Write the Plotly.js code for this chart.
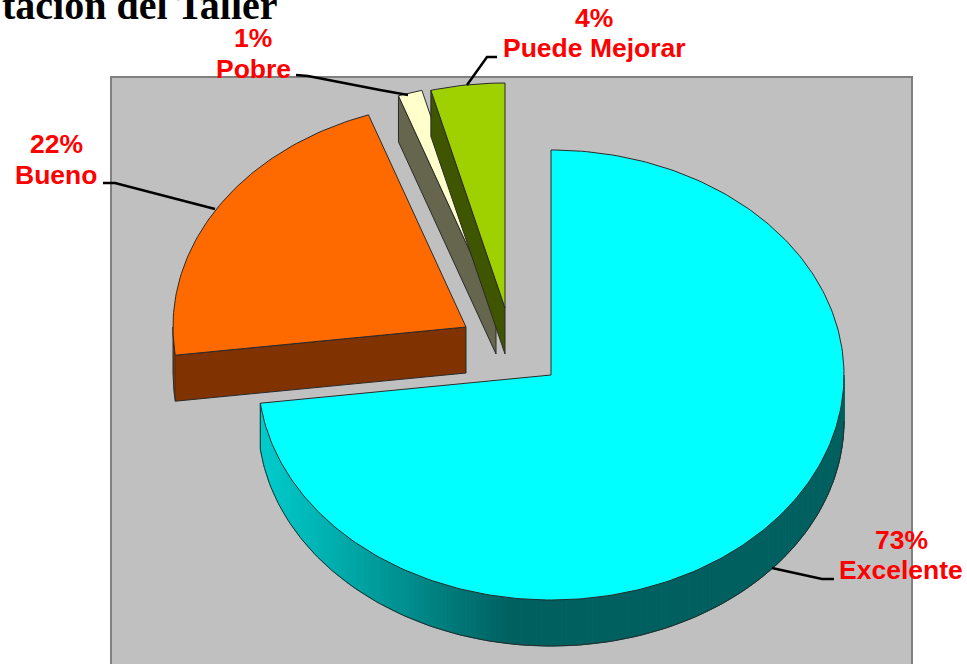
<!DOCTYPE html>
<html><head><meta charset="utf-8">
<script src="https://cdn.plot.ly/plotly-3.0.1.min.js"></script>
<style>html,body{margin:0;padding:0;background:#fff;overflow:hidden}#c{width:967px;height:664px}</style>
</head><body><div id="c"></div><script>
const categories = ['Excelente','Bueno','Pobre','Puede Mejorar'];
const percentLabels = ['73%','22%','1%','4%'];
const shares = [73.0, 21.6, 1.33, 4.07];
const topColors = ['#00ffff','#ff6a00','#ffffcc','#9fd000'];
const wallColors = ['#006060','#803300','#66664f','#3f5500'];
const apexX = [551, 466, 496, 505];
const apexY = [375, 327, 308, 308];
const titleText = 'tación del Taller';

const RX = 293, RY = 225, DEPTH = 46, OUT = '#2a2a2a';
const traces = [];
const px = (i, a) => apexX[i] + RX * Math.sin(a * Math.PI / 180);
const py = (i, a, d) => apexY[i] - RY * Math.cos(a * Math.PI / 180) + (d || 0);
const angleSteps = (a, b, s) => { const r = []; const n = Math.max(1, Math.ceil(Math.abs(b - a) / s)); for (let k = 0; k <= n; k++) r.push(a + (b - a) * k / n); return r; };
const poly = (x, y, fill, line, w) => traces.push({type:'scatter', mode: line ? 'lines' : 'none', x, y,
  fill: fill ? 'toself' : 'none', fillcolor: fill || undefined, line:{color: line || 'rgba(0,0,0,0)', width: w || 1},
  hoverinfo:'skip', showlegend:false, cliponaxis:false});

// angular extent of each slice, clockwise from 12 o'clock
const spans = []; let acc = 0;
shares.forEach(v => { spans.push([acc, acc + v * 3.6]); acc += v * 3.6; });

function tealAt(x) {
  const stops = [[260,205],[330,175],[400,145],[450,122],[510,96],[900,96]];
  for (let k = 1; k < stops.length; k++) if (x <= stops[k][0]) {
    const t = (x - stops[k-1][0]) / (stops[k][0] - stops[k-1][0]);
    const g = Math.round(stops[k-1][1] + t * (stops[k][1] - stops[k-1][1]));
    return `rgb(0,${g},${g})`;
  }
  return 'rgb(0,96,96)';
}
function wallExcelente(i) {
  const a0 = 90, a1 = spans[i][1];
  const as = angleSteps(a0, a1, 1);
  for (let k = 0; k < as.length - 1; k++) {
    const a = as[k], b = as[k+1], c = tealAt(px(i,(a+b)/2));
    poly([px(i,a),px(i,b),px(i,b),px(i,a),px(i,a)], [py(i,a),py(i,b),py(i,b,DEPTH),py(i,a,DEPTH),py(i,a)], c, c, 1);
  }
  const arc = angleSteps(a0, a1, 1);
  poly(arc.map(a => px(i,a)), arc.map(a => py(i,a,DEPTH)), null, OUT, 1);
  poly([px(i,a1),px(i,a1)], [py(i,a1),py(i,a1,DEPTH)], null, OUT, 1);
}
function topFace(i) {
  const arc = angleSteps(spans[i][0], spans[i][1], 1);
  const x = [apexX[i]].concat(arc.map(a => px(i,a)), [apexX[i]]);
  const y = [apexY[i]].concat(arc.map(a => py(i,a)), [apexY[i]]);
  poly(x, y, topColors[i], OUT, 1);
}
function wallCut(i, a) {
  poly([px(i,a),apexX[i],apexX[i],px(i,a),px(i,a)],
       [py(i,a),apexY[i],apexY[i]+DEPTH,py(i,a,DEPTH),py(i,a)], wallColors[i], OUT, 1);
}
wallCut(1, spans[1][0]);
const bArc = angleSteps(spans[1][0], 270, 1);
poly(bArc.map(a=>px(1,a)).concat(bArc.slice().reverse().map(a=>px(1,a))),
     bArc.map(a=>py(1,a)).concat(bArc.slice().reverse().map(a=>py(1,a,DEPTH))), wallColors[1], OUT, 1);
topFace(1);
wallCut(2, spans[2][0]); topFace(2);
wallCut(3, spans[3][0]); topFace(3);
wallExcelente(0); topFace(0);

// leader lines
const leaderX = [[772,822,834],[215,115,103],[408,380,308,296],[467,487,497]];
const leaderY = [[568,579,579],[209,183,183],[95,90,76,75],[85,57,57]];
leaderX.forEach((x,i) => traces.push({type:'scatter',mode:'lines',x,y:leaderY[i],line:{color:'#000',width:2.5},hoverinfo:'skip',showlegend:false,cliponaxis:false}));

const labelX = [901,56,253,594], pctY = [540,144,38,18], nameY = [570,175,69,48];
const labelFont = {family:'"Liberation Sans",Arial,sans-serif', size:26.5, color:'#ff0000', weight:700};
const ann = [];
categories.forEach((c,i) => {
  ann.push({x:labelX[i],y:pctY[i],text:percentLabels[i],showarrow:false,font:labelFont,xref:'x',yref:'y',xanchor:'center',yanchor:'middle'});
  ann.push({x:labelX[i],y:nameY[i],text:c,showarrow:false,font:labelFont,xref:'x',yref:'y',xanchor:'center',yanchor:'middle'});
});
ann.push({x:280,y:5,text:titleText,showarrow:false,xref:'x',yref:'y',xanchor:'right',yanchor:'middle',
  font:{family:'"Liberation Serif","Times New Roman",serif',size:40,color:'#000',weight:700}});

const layout = {
  width:967,height:664,margin:{l:0,r:0,t:0,b:0,pad:0},paper_bgcolor:'#fff',plot_bgcolor:'#fff',showlegend:false,
  xaxis:{range:[0,967],visible:false,fixedrange:true},
  yaxis:{range:[664,0],visible:false,fixedrange:true},
  shapes:[{type:'rect',layer:'below',xref:'x',yref:'y',x0:111,x1:912,y0:77,y1:670,fillcolor:'#c0c0c0',line:{color:'#808080',width:2}}],
  annotations:ann
};
Plotly.newPlot('c',traces,layout,{displayModeBar:false,staticPlot:true});
</script></body></html>
